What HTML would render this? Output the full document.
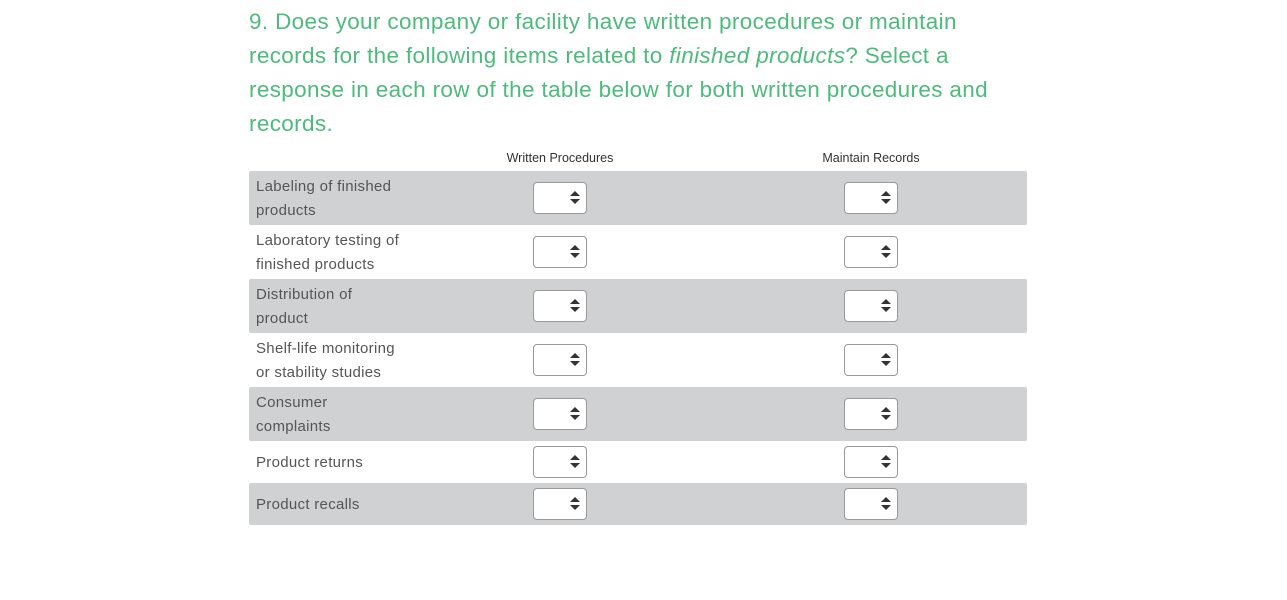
<!DOCTYPE html>
<html><head><style>
body{margin:0;background:#fff;width:1287px;height:600px;overflow:hidden;font-family:"Liberation Sans",sans-serif}
.t{position:absolute;left:249px;top:5px;width:900px;font-size:22.5px;line-height:34px;color:#4cbb7b;letter-spacing:0.35px;white-space:nowrap}
.h{position:absolute;top:151px;font-size:12.5px;color:#333;width:200px;text-align:center}
.r{position:absolute;left:249px;width:778px;border-radius:2px}
.r.g{background:#d0d1d3}
.l{position:absolute;left:7px;font-size:15px;line-height:24px;color:#555;letter-spacing:0.3px}
.s{position:absolute;width:52px;height:30px;border:1px solid #999;border-radius:4px;background:#fff}
.s:after{content:"";position:absolute;right:6px;top:8px;border:5px solid transparent;border-bottom:5px solid #333;border-top:0}
.s:before{content:"";position:absolute;right:6px;top:16px;border:5px solid transparent;border-top:5px solid #333;border-bottom:0}
</style></head><body>
<div class="t">9. Does your company or facility have written procedures or maintain<br>records for the following items related to <i>finished products</i>? Select a<br>response in each row of the table below for both written procedures and<br>records.</div>
<div class="h" style="left:460px">Written Procedures</div>
<div class="h" style="left:771px">Maintain Records</div>
<div class="r g" style="top:171px;height:54px"><div class="l" style="top:4px">Labeling of finished<br>products</div><div class="s" style="left:284px;top:11px"></div><div class="s" style="left:595px;top:11px"></div></div>
<div class="r" style="top:225px;height:54px"><div class="l" style="top:4px">Laboratory testing of<br>finished products</div><div class="s" style="left:284px;top:11px"></div><div class="s" style="left:595px;top:11px"></div></div>
<div class="r g" style="top:279px;height:54px"><div class="l" style="top:4px">Distribution of<br>product</div><div class="s" style="left:284px;top:11px"></div><div class="s" style="left:595px;top:11px"></div></div>
<div class="r" style="top:333px;height:54px"><div class="l" style="top:4px">Shelf-life monitoring<br>or stability studies</div><div class="s" style="left:284px;top:11px"></div><div class="s" style="left:595px;top:11px"></div></div>
<div class="r g" style="top:387px;height:54px"><div class="l" style="top:4px">Consumer<br>complaints</div><div class="s" style="left:284px;top:11px"></div><div class="s" style="left:595px;top:11px"></div></div>
<div class="r" style="top:441px;height:42px"><div class="l" style="top:10px">Product returns</div><div class="s" style="left:284px;top:5px"></div><div class="s" style="left:595px;top:5px"></div></div>
<div class="r g" style="top:483px;height:42px"><div class="l" style="top:10px">Product recalls</div><div class="s" style="left:284px;top:5px"></div><div class="s" style="left:595px;top:5px"></div></div>
</body></html>
